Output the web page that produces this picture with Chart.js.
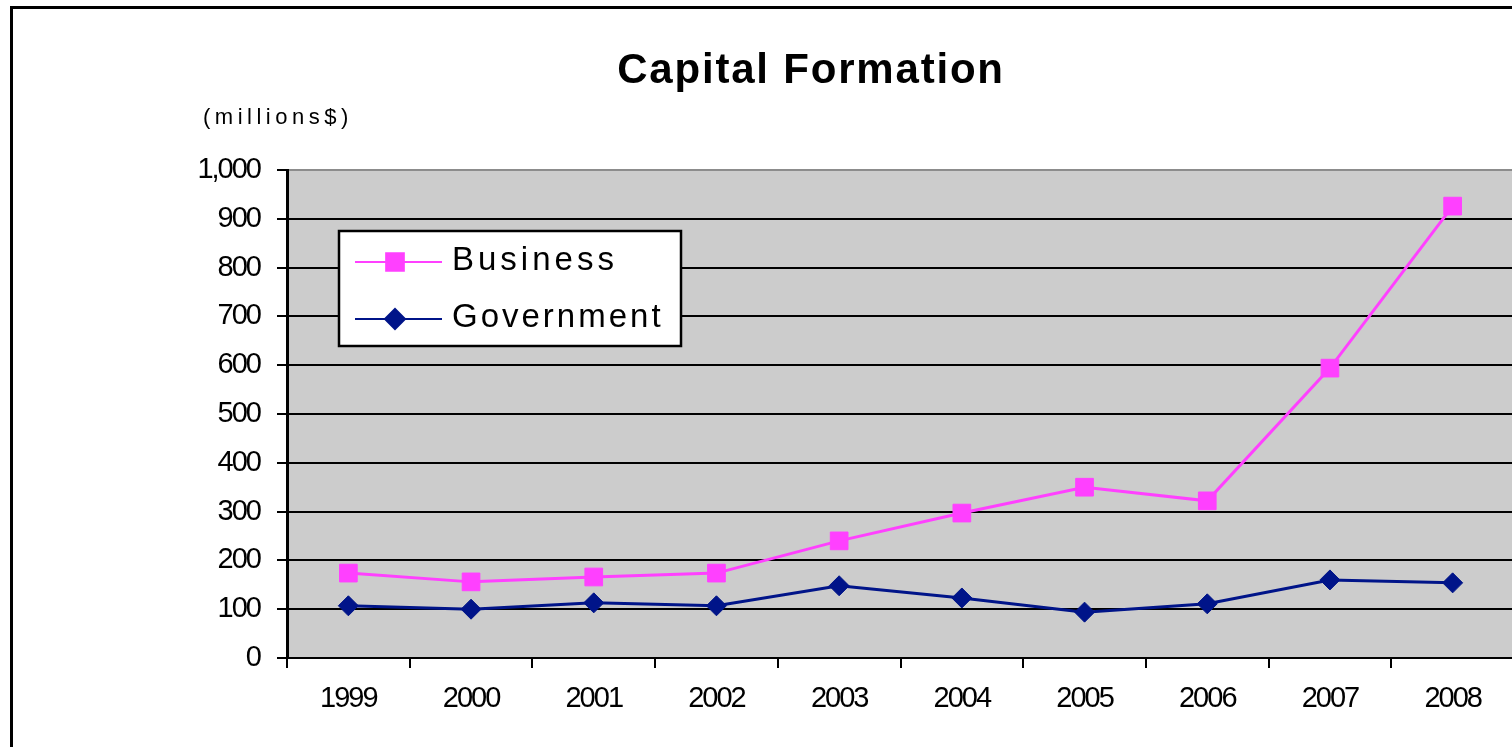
<!DOCTYPE html>
<html>
<head>
<meta charset="utf-8">
<title>Capital Formation</title>
<script src="https://cdn.jsdelivr.net/npm/chart.js@4"></script>
<style>
  html, body { margin: 0; padding: 0; background: #fff; overflow: hidden; }
  #wrap { position: absolute; left: 0; top: 0; width: 1530px; height: 747px; }
</style>
</head>
<body>
<div id="wrap"><canvas id="capitalChart"></canvas></div>
<script>
// Chart data
const years = ['1999', '2000', '2001', '2002', '2003', '2004', '2005', '2006', '2007', '2008'];
const businessValues = [174, 156, 166, 174, 240, 297, 350, 322, 594, 926];
const governmentValues = [107, 100, 113, 107, 148, 123, 94, 111, 160, 154];
const seriesNames = ['Business', 'Government'];
const chartTitle = 'Capital Formation';
const unitLabel = '(millions$)';

const FONT = 'Arial, "Liberation Sans", sans-serif';

// Gray plot area, tight lettering for the tick labels
const plotBackground = {
    id: 'plotBackground',
    beforeDraw(chart) {
        const { ctx, chartArea } = chart;
        ctx.save();
        ctx.fillStyle = '#cccccc';
        ctx.fillRect(chartArea.left, chartArea.top, chartArea.right - chartArea.left, chartArea.bottom - chartArea.top);
        ctx.restore();
        ctx.letterSpacing = '-2px';
    }
};

// Frame, title, unit label and the boxed legend
const decorations = {
    id: 'decorations',
    afterDraw(chart) {
        const { ctx, chartArea } = chart;
        ctx.save();

        ctx.strokeStyle = '#000';
        ctx.lineWidth = 3;
        ctx.strokeRect(11.5, 7.5, 3000, 3000);

        ctx.fillStyle = '#000';
        ctx.textBaseline = 'alphabetic';
        ctx.font = 'bold 42px ' + FONT;
        ctx.letterSpacing = '1.8px';
        ctx.textAlign = 'center';
        ctx.fillText(chartTitle, 811, 83);

        ctx.font = '22px ' + FONT;
        ctx.letterSpacing = '4.5px';
        ctx.textAlign = 'left';
        ctx.fillText(unitLabel, 203, 124);

        // legend box
        const lx = chartArea.left + 52, ly = chartArea.top + 61;
        ctx.fillStyle = '#fff';
        ctx.fillRect(lx, ly, 342, 115);
        ctx.lineWidth = 2.5;
        ctx.strokeStyle = '#000';
        ctx.strokeRect(lx, ly, 342, 115);

        chart.data.datasets.forEach((ds, i) => {
            const y = ly + 31 + i * 57;
            ctx.strokeStyle = ds.borderColor;
            ctx.lineWidth = 2;
            ctx.beginPath();
            ctx.moveTo(lx + 16, y);
            ctx.lineTo(lx + 103, y);
            ctx.stroke();
            ctx.fillStyle = ds.backgroundColor;
            Chart.helpers.drawPoint(ctx, {
                pointStyle: ds.pointStyle,
                radius: ds.pointRadius,
                borderWidth: 1
            }, lx + 56, y);

            ctx.fillStyle = '#000';
            ctx.font = '33px ' + FONT;
            ctx.letterSpacing = i === 0 ? '4px' : '3px';
            ctx.fillText(ds.label, lx + 113, y + 8);
        });

        ctx.restore();
    }
};

const tickFont = { family: FONT, size: 29 };

const ctx = document.getElementById('capitalChart').getContext('2d');
const capitalChart = new Chart(ctx, {
    type: 'line',
    data: {
        labels: years,
        datasets: [{
            label: seriesNames[0],
            data: businessValues,
            borderColor: '#ff40ff',
            backgroundColor: '#ff40ff',
            borderWidth: 3,
            pointStyle: 'rect',
            pointRadius: 12.5,
            pointBorderWidth: 1,
            tension: 0
        }, {
            label: seriesNames[1],
            data: governmentValues,
            borderColor: '#001489',
            backgroundColor: '#001489',
            borderWidth: 3,
            pointStyle: 'rectRot',
            pointRadius: 10,
            pointBorderWidth: 1,
            tension: 0
        }]
    },
    options: {
        responsive: true,
        maintainAspectRatio: false,
        devicePixelRatio: 1,
        animation: false,
        layout: { padding: { top: 170, right: 16, left: 0, bottom: 0 } },
        plugins: {
            legend: { display: false },
            title: { display: false },
            tooltip: { enabled: false }
        },
        scales: {
            x: {
                offset: true,
                grid: {
                    offset: true,
                    drawOnChartArea: false,
                    tickLength: 10,
                    color: '#000',
                    lineWidth: 2
                },
                border: { color: '#000', width: 2 },
                ticks: {
                    color: '#000',
                    font: tickFont,
                    padding: 14,
                    maxRotation: 0,
                    autoSkip: false
                },
                afterFit(scale) { scale.height = 89; }
            },
            y: {
                min: 0,
                max: 1000,
                ticks: {
                    stepSize: 100,
                    color: '#000',
                    font: tickFont,
                    padding: 17
                },
                grid: {
                    color: c => (c.tick && c.tick.value === 1000 ? '#8c8c8c' : '#000'),
                    tickColor: '#000',
                    lineWidth: 2,
                    tickLength: 10
                },
                border: { color: '#000', width: 3 },
                afterFit(scale) { scale.width = 287; }
            }
        }
    },
    plugins: [plotBackground, decorations]
});
</script>
</body>
</html>
